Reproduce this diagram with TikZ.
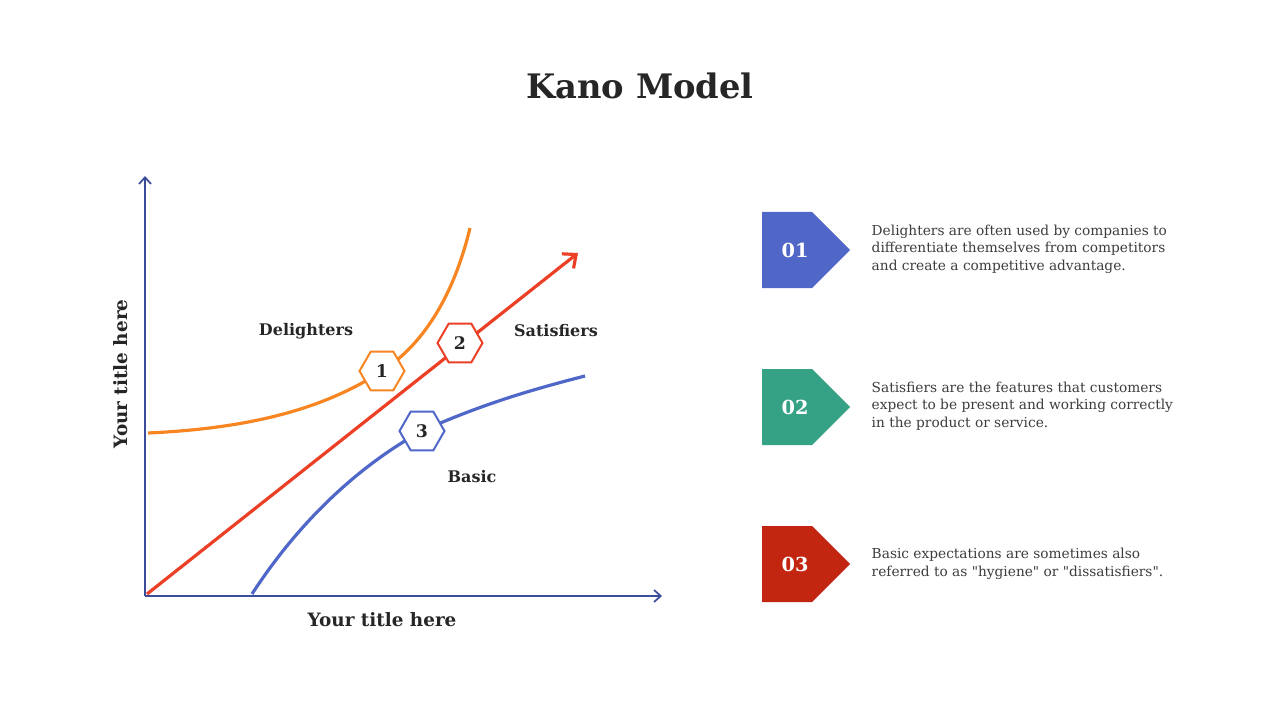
\documentclass[tikz,border=0pt]{standalone}
\usepackage{fontspec}
\setmainfont{DejaVu Serif}[Ligatures=TeXOff]
\usepackage{xcolor}
\usepackage{tikz}
\usetikzlibrary{positioning}
\usetikzlibrary{arrows.meta}
\usetikzlibrary{shapes.geometric, shapes.symbols}

\definecolor{axisblue}{HTML}{3B4C9B}
\definecolor{delorange}{HTML}{F78622}
\definecolor{satred}{HTML}{EB4025}
\definecolor{basicblue}{HTML}{4F67C8}
\definecolor{darktext}{HTML}{262626}
\definecolor{desctext}{HTML}{3C3C3C}
\definecolor{boxblue}{HTML}{5067C8}
\definecolor{boxgreen}{HTML}{36A285}
\definecolor{boxred}{HTML}{C32610}

\tikzset{
  hexnum/.style={draw, regular polygon, regular polygon sides=6, minimum size=33.75pt, inner sep=0pt, fill=white, line width=1.5pt, text=darktext, font=\bfseries\fontsize{13}{13}\selectfont},
  curvelabel/.style={text=darktext, font=\bfseries\fontsize{12}{14}\selectfont},
  numbox/.style={signal, signal to=east, signal pointer angle=90, minimum width=66pt, minimum height=57pt, inner sep=0pt},
  boxnum/.style={text=white, font=\bfseries\fontsize{14.5}{15}\selectfont},
  desc/.style={anchor=west, align=left, text=desctext, font=\fontsize{10.3}{13.1}\selectfont}
}

\begin{document}
\begin{tikzpicture}[x=0.75pt, y=-0.75pt]
			\useasboundingbox (0,0) rectangle (1280,720);
			% Title
			\node[text=darktext, font=\bfseries\fontsize{25.3}{28}\selectfont] (title) at (640,86) {Kano Model};

			% Axes
			\coordinate (origin) at (145,596);
			\coordinate (ytop) at (145,176);
			\coordinate (xend) at (662,596);
			\draw[axisblue, line width=1.3pt, -{Straight Barb[length=5pt, width=9pt]}] (origin) -- (ytop);
			\draw[axisblue, line width=1.3pt, -{Straight Barb[length=5pt, width=9pt]}] (origin) -- (xend);
			\node[text=darktext, font=\bfseries\fontsize{13.8}{14}\selectfont] (xlabel) at (382,620) {Your title here};
			\node[text=darktext, font=\bfseries\fontsize{13.8}{14}\selectfont, rotate=90] (ylabel) at (121,374) {Your title here};

			% Curve points
			\coordinate (d0) at (148,433);
			\coordinate (d1) at (382,371);
			\coordinate (d2) at (470,228);
			\coordinate (s0) at (147,594);
			\coordinate (s1) at (460,343);
			\coordinate (s2) at (578,253);
			\coordinate (b0) at (252,594);
			\coordinate (b1) at (422,431);
			\coordinate (b2) at (585,376);

			% Curves
			\draw[delorange, line width=2.4pt] (d0) .. controls (260,428) and (330,405) .. (d1) .. controls (427,342) and (455,290) .. (d2);
			\draw[satred, line width=2.4pt, -{Straight Barb[length=8pt, width=14pt]}] (s0) -- (s2);
			\draw[basicblue, line width=2.4pt] (b0) .. controls (300,520) and (360,465) .. (b1) .. controls (480,405) and (530,390) .. (b2);

			% Markers
			\node[hexnum, draw=delorange] (h1) at (d1) {1};
			\node[hexnum, draw=satred] (h2) at (s1) {2};
			\node[hexnum, draw=basicblue] (h3) at (b1) {3};

			\node[curvelabel] (dlabel) at (306,331) {Delighters};
			\node[curvelabel] (slabel) at (556,331) {Satisfiers};
			\node[curvelabel] (blabel) at (472,477) {Basic};

			% Legend
			\node[numbox, fill=boxblue] (box1) at (787,250) {};
			\node[numbox, fill=boxgreen] (box2) at (787,407) {};
			\node[numbox, fill=boxred] (box3) at (787,564) {};
			\node[boxnum] (n1) at (795,250) {01};
			\node[boxnum] (n2) at (795,407) {02};
			\node[boxnum] (n3) at (795,564) {03};

			\node[desc] (t1) at (867,249) {Delighters are often used by companies to\\differentiate themselves from competitors\\and create a competitive advantage.};
			\node[desc] (t2) at (867,406) {Satisfiers are the features that customers\\expect to be present and working correctly\\in the product or service.};
			\node[desc] (t3) at (867,564) {Basic expectations are sometimes also\\referred to as "hygiene" or "dissatisfiers".};
		\end{tikzpicture}
\end{document}
